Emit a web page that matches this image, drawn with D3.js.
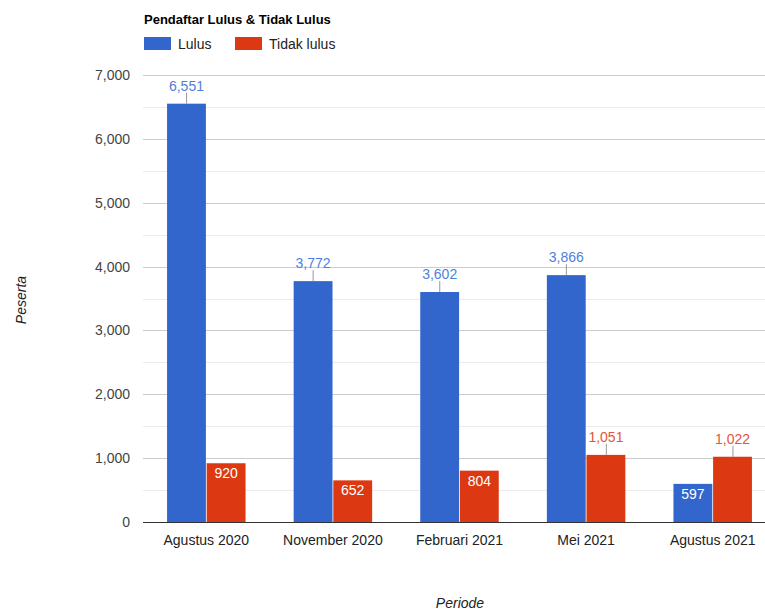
<!DOCTYPE html>
<html><head><meta charset="utf-8">
<script src="https://cdn.jsdelivr.net/npm/d3@7"></script>
<style>body{margin:0;background:#fff;font-family:Arial,"Liberation Sans",sans-serif;}</style>
</head><body>
<svg id="c" width="765" height="610"></svg>
<script>
const categories = ["Agustus 2020","November 2020","Februari 2021","Mei 2021","Agustus 2021"];
const seriesNames = ["Lulus","Tidak lulus"];
const lulus = [6551, 3772, 3602, 3866, 597];
const tidakLulus = [920, 652, 804, 1051, 1022];
const yTicks = [0,1000,2000,3000,4000,5000,6000,7000];
const yMinor = [500,1500,2500,3500,4500,5500,6500];
const colors = ["#3366cc","#dc3912"];
const annoColors = ["#4f7fdc","#e4553a"];

const svg = d3.select("#c");
const fmt = d3.format(",");
const plotLeft = 143, plotRight = 776, plotTop = 75, plotBottom = 522;
const x = d3.scaleBand().domain(categories).range([plotLeft, plotRight]).padding(0);
const gw = x.bandwidth()*0.62;
const inner = d3.scaleBand().domain(seriesNames).range([0, gw]).paddingInner(0.02);
const y = d3.scaleLinear().domain([0,7000]).range([plotBottom, plotTop]);

// gridlines
svg.append("g").selectAll("line").data(yMinor).join("line")
  .attr("x1", plotLeft).attr("x2", 765).attr("y1", d=>Math.round(y(d))+0.5).attr("y2", d=>Math.round(y(d))+0.5)
  .attr("stroke", "#ebebeb");
svg.append("g").selectAll("line").data(yTicks.filter(d=>d>0)).join("line")
  .attr("x1", plotLeft).attr("x2", 765).attr("y1", d=>Math.round(y(d))+0.5).attr("y2", d=>Math.round(y(d))+0.5)
  .attr("stroke", "#cccccc");

// y axis labels
const yAxis = d3.axisLeft(y).tickValues(yTicks).tickFormat(fmt).tickSize(0).tickPadding(0);
const ya = svg.append("g").attr("transform", `translate(${plotLeft-13},0)`).call(yAxis);
ya.select(".domain").remove();
ya.selectAll("text").attr("font-size", 14).attr("fill", "#444").attr("font-family", "Arial, 'Liberation Sans', sans-serif");

// bars
const data = categories.map((c,i)=>({cat:c, vals:[lulus[i], tidakLulus[i]]}));
const groups = svg.append("g").selectAll("g").data(data).join("g")
  .attr("transform", d=>`translate(${x(d.cat)+ (x.bandwidth()-gw)/2},0)`);
groups.selectAll("rect").data(d=>d.vals.map((v,j)=>({v, s:seriesNames[j], j}))).join("rect")
  .attr("x", d=>inner(d.s)).attr("width", inner.bandwidth())
  .attr("y", d=>y(d.v)).attr("height", d=>plotBottom - y(d.v))
  .attr("fill", d=>colors[d.j]);

// annotations
groups.each(function(d){
  const g = d3.select(this);
  d.vals.forEach((v,j)=>{
    const s = seriesNames[j];
    const cx = inner(s) + inner.bandwidth()/2;
    const t = g.append("text").attr("x", cx).attr("text-anchor","middle")
      .attr("font-size", 14).attr("font-family","Arial, 'Liberation Sans', sans-serif").text(fmt(v));
    const w = t.node().getComputedTextLength();
    if (w + 6 < inner.bandwidth()) {
      t.attr("y", y(v) + 15).attr("fill", "#fff");
    } else {
      t.attr("y", y(v) - 13).attr("fill", annoColors[j]);
      g.append("line").attr("x1", Math.round(cx)+0.5).attr("x2", Math.round(cx)+0.5)
        .attr("y1", y(v)).attr("y2", y(v)-11).attr("stroke", "#999").attr("stroke-width", 1);
    }
  });
});

// baseline
svg.append("line").attr("x1", plotLeft).attr("x2", 765).attr("y1", plotBottom+0.5).attr("y2", plotBottom+0.5).attr("stroke", "#333");

// x labels
const xAxis = d3.axisBottom(x).tickSize(0).tickPadding(0);
const xa = svg.append("g").attr("transform", `translate(0,${plotBottom+13})`).call(xAxis);
xa.select(".domain").remove();
xa.selectAll("text").attr("font-size", 14).attr("fill", "#222").attr("font-family","Arial, 'Liberation Sans', sans-serif");

// title
svg.append("text").attr("x", 144).attr("y", 24).attr("font-size", 13).attr("font-weight","bold").attr("fill","#000")
  .text("Pendaftar Lulus & Tidak Lulus");

// legend
const legX = [144, 235];
seriesNames.forEach((s,i)=>{
  svg.append("rect").attr("x", legX[i]).attr("y", 37).attr("width", 27).attr("height", 13).attr("fill", colors[i]);
  svg.append("text").attr("x", legX[i]+34).attr("y", 49).attr("font-size", 14).attr("fill","#222").text(s);
});

// axis titles
svg.append("text").attr("transform","translate(26,300) rotate(-90)").attr("text-anchor","middle")
  .attr("font-size",14).attr("font-style","italic").attr("fill","#222").text("Peserta");
svg.append("text").attr("x", 460).attr("y", 608).attr("text-anchor","middle")
  .attr("font-size",14).attr("font-style","italic").attr("fill","#222").text("Periode");
</script>
</body></html>
